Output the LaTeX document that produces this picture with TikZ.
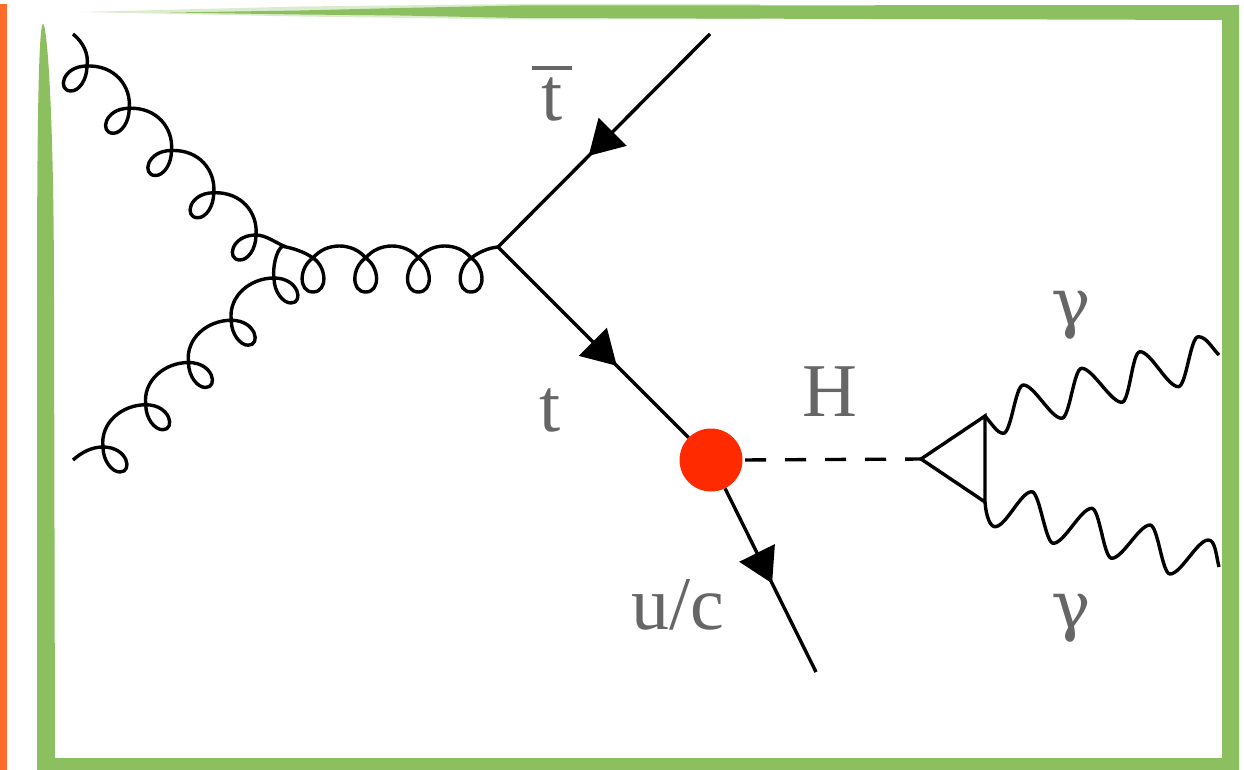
\documentclass[tikz,border=0pt]{standalone}
\usepackage{fontspec}
\setmainfont{Liberation Serif}
\newfontfamily\gammafont{DejaVu Serif}
\usetikzlibrary{arrows.meta,decorations.markings}
\definecolor{framegreen}{HTML}{8CBF5F}
\definecolor{barorange}{HTML}{FF6B2B}
\definecolor{dotred}{HTML}{FF2A00}
\definecolor{labelgray}{HTML}{666666}
% gluon pieces (relative, current point walks along)
\def\loopA{.. controls +(0,14) and +(8,0) .. ++(-16,25) .. controls +(-14,0) and +(-25,0) .. ++(16,-25)}
\def\arcA{.. controls +(28,-1) and +(2,-22) .. ++(42.25,42.25)}
\def\loopB{.. controls +(25,0) and +(13,0) .. ++(17,25) .. controls +(-8,0) and +(0,14) .. ++(-17,-25)}
\def\arcB{.. controls +(-3,-24) and +(-24,0) .. ++(42.75,-42.25)}
\def\loopC{.. controls +(14,9) and +(15,0) .. ++(0,34) .. controls +(-15,0) and +(-14,9) .. ++(0,-34)}
\def\arcC{.. controls +(13,-16) and +(-13,-16) .. ++(52.7,0)}
% photon pieces
\def\wvS(#1){.. controls +(8,0) and +(-8,0) .. (#1)}
\def\wvD(#1){.. controls +(11,0) and +(-11,0) .. (#1)}
\tikzset{
  line/.style={line width=3.4pt,black},
  gluon/.style={line,line join=round},
  fermion/.style={line,postaction={decorate},decoration={markings,
    mark=at position #1 with {\arrow{Triangle[length=34pt,width=39pt]}}}},
  lbl/.style={text=labelgray,anchor=base,inner sep=0pt,font=\fontsize{76}{76}\selectfont},
  greenbar/.style={fill=framegreen,draw=none}
}
\begin{document}
\begin{tikzpicture}[x=1pt,y=-1pt]
\useasboundingbox (0,0) rectangle (1244,770);
\fill[white] (0,0) rectangle (1244,770);
% side orange bar
\fill[barorange] (0,4) rectangle (7,770);
% green hand-drawn frame
\fill[framegreen,opacity=.3] (80,12) -- (300,6.5) -- (520,4) -- (760,4) -- (760,19.5) -- (520,19.5) -- (300,16.5) -- cycle;
\fill[greenbar] (37,770) -- (37,300) .. controls (37,110) and (39,24) .. (43,24)
  .. controls (47,24) and (54,110) .. (54,300) -- (55,758) -- (1222,758) -- (1222,20)
  -- (520,18) -- (400,15.5) -- (300,14.5) -- (170,12.5) -- (300,10.5) -- (400,8) -- (520,5.5)
  -- (1239,5) -- (1239,770) -- cycle;
% vertices
\coordinate (g1) at (73,34);
\coordinate (g2) at (73,460);
\coordinate (v1) at (286,247);
\coordinate (v2) at (498,247);
\coordinate (tb) at (710,34);
\coordinate (qe) at (816,672);
\coordinate (apex) at (921,459);
\coordinate (tri1) at (985,416);
\coordinate (tri2) at (985,502);
\coordinate (ph1) at (1219,355);
\coordinate (ph2) at (1219,567);
\node[circle,fill=dotred,minimum size=63pt,inner sep=0pt] (fcnc) at (711,460) {};
% gluons
\draw[gluon] (g1) .. controls (83,42) and (89,54) .. (87,66)
  \loopA \arcA \loopA \arcA \loopA \arcA \loopA \arcA \loopA
  .. controls +(10,0) and +(-10,-4) .. (v1);
\draw[gluon] (g2) .. controls (82,452) and (92,447) .. (103,447)
  \loopB \arcB \loopB \arcB \loopB \arcB \loopB \arcB \loopB
  .. controls +(-2,-13) and +(-7,-6) .. (v1);
\draw[gluon] (v1) .. controls +(10,2) and +(-7,-5) .. (313,258)
  \loopC \arcC \loopC \arcC \loopC \arcC \loopC
  .. controls +(8,-6) and +(-10,1) .. (v2);
% fermions
\draw[fermion=172pt] (tb) -- (v2);
\draw[fermion=168pt] (v2) -- (fcnc);
\draw[fermion=106pt] (fcnc) -- (qe);
% Higgs
\draw[line,dash pattern=on 21pt off 19pt,shorten <=2.5pt] (fcnc.east) -- (apex);
\draw[line,line join=miter] (apex) -- (tri1) -- (tri2) -- cycle;
% photons
\draw[gluon] (tri1) .. controls +(7,8) and +(-6,0) .. (1003.3,433.3)
  \wvS(1023.3,385) \wvD(1061.7,418.3) \wvS(1081.7,368.3) \wvD(1121.7,402.3)
  \wvS(1140,351.7) \wvD(1178.3,386.7) \wvS(1198.3,336.7)
  .. controls +(8,0) and +(-7,-7) .. (ph1);
\draw[gluon] (tri2) .. controls +(1,14) and +(-5,0) .. (995,526.7)
  \wvD(1031.7,491.7) \wvS(1053.3,543.3) \wvD(1091.7,508.3) \wvS(1111.7,558.3)
  \wvD(1150,525) \wvS(1170,574) \wvD(1208.3,540)
  .. controls +(7,0) and +(-3,-12) .. (ph2);
% labels
\node[lbl] (ltbar) at (552,121) {\vbox{\hsize=40pt\hrule height 4pt\kern8pt\hbox to 40pt{\hss t\hss}}};
\node[lbl] (lt) at (550,431) {t};
\node[lbl] (lH) at (830,416) {H};
\node[lbl] (luc) at (678,629) {u/c};
\node[lbl] (lg1) at (1071,325) {\gammafont\fontsize{66}{66}\selectfont γ};
\node[lbl] (lg2) at (1071,628) {\gammafont\fontsize{66}{66}\selectfont γ};
\end{tikzpicture}
\end{document}
